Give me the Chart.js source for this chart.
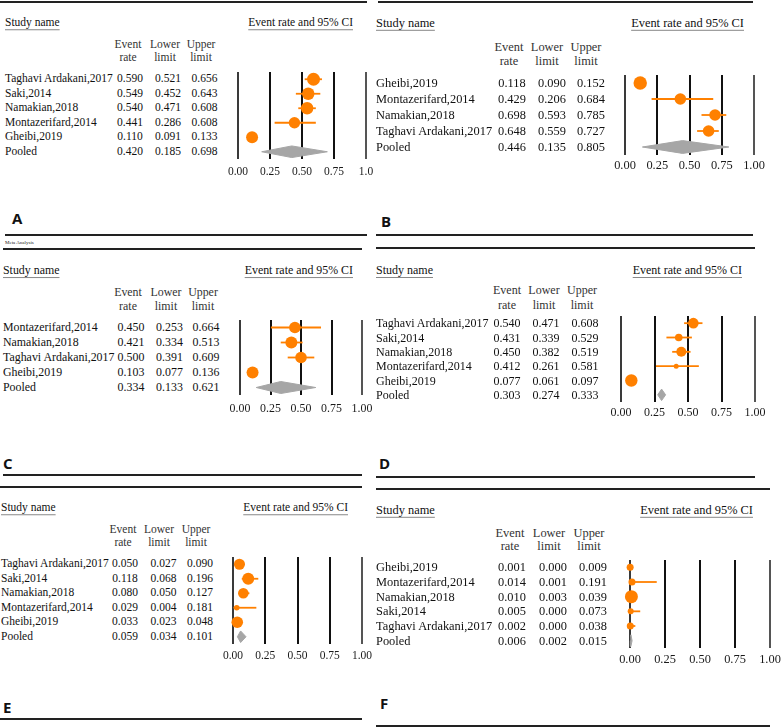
<!DOCTYPE html>
<html>
<head>
<meta charset="utf-8">
<script src="https://cdn.jsdelivr.net/npm/chart.js@4.4.1/dist/chart.umd.min.js"></script>
<style>
  html, body { margin:0; padding:0; background:#fff; }
  #root { position:relative; width:781px; height:727px; overflow:hidden; background:#fff; }
  .t { position:absolute; white-space:nowrap; line-height:1; font-family:"Liberation Serif", "Times New Roman", serif; color:#111; }
  .u { text-decoration: underline; text-decoration-color:#888; text-underline-offset:3px; text-decoration-thickness:1px; }
  .lab { position:absolute; font-family:"Open Sans", "DejaVu Sans", sans-serif; font-weight:700; font-size:15px; line-height:1; color:#111; transform:translateY(-50%); }
  .rule { position:absolute; height:2px; background:#222; }
  canvas { position:absolute; }
</style>
</head>
<body>
<div id="root"></div>
<script>
// ---------------- DATA ----------------
const axisTicksA = ['0.00','0.25','0.50','0.75','1.0'];
const axisTicks  = ['0.00','0.25','0.50','0.75','1.00'];

const studiesA = ['Taghavi Ardakani,2017','Saki,2014','Namakian,2018','Montazerifard,2014','Gheibi,2019','Pooled'];
const rateA  = [0.590, 0.549, 0.540, 0.441, 0.110, 0.420];
const lowerA = [0.521, 0.452, 0.471, 0.286, 0.091, 0.185];
const upperA = [0.656, 0.643, 0.608, 0.608, 0.133, 0.698];

const studiesB = ['Gheibi,2019','Montazerifard,2014','Namakian,2018','Taghavi Ardakani,2017','Pooled'];
const rateB  = [0.118, 0.429, 0.698, 0.648, 0.446];
const lowerB = [0.090, 0.206, 0.593, 0.559, 0.135];
const upperB = [0.152, 0.684, 0.785, 0.727, 0.805];

const studiesC = ['Montazerifard,2014','Namakian,2018','Taghavi Ardakani,2017','Gheibi,2019','Pooled'];
const rateC  = [0.450, 0.421, 0.500, 0.103, 0.334];
const lowerC = [0.253, 0.334, 0.391, 0.077, 0.133];
const upperC = [0.664, 0.513, 0.609, 0.136, 0.621];

const studiesD = ['Taghavi Ardakani,2017','Saki,2014','Namakian,2018','Montazerifard,2014','Gheibi,2019','Pooled'];
const rateD  = [0.540, 0.431, 0.450, 0.412, 0.077, 0.303];
const lowerD = [0.471, 0.339, 0.382, 0.261, 0.061, 0.274];
const upperD = [0.608, 0.529, 0.519, 0.581, 0.097, 0.333];

const studiesE = ['Taghavi Ardakani,2017','Saki,2014','Namakian,2018','Montazerifard,2014','Gheibi,2019','Pooled'];
const rateE  = [0.050, 0.118, 0.080, 0.029, 0.033, 0.059];
const lowerE = [0.027, 0.068, 0.050, 0.004, 0.023, 0.034];
const upperE = [0.090, 0.196, 0.127, 0.181, 0.048, 0.101];

const studiesF = ['Gheibi,2019','Montazerifard,2014','Namakian,2018','Saki,2014','Taghavi Ardakani,2017','Pooled'];
const rateF  = [0.001, 0.014, 0.010, 0.005, 0.002, 0.006];
const lowerF = [0.000, 0.001, 0.003, 0.000, 0.000, 0.002];
const upperF = [0.009, 0.191, 0.039, 0.073, 0.038, 0.015];

// ---------------- STYLE / LAYOUT ----------------
const ORANGE = '#ff8000';
const DIAMOND = '#a6a6a6';
const GRID = ['#3a3a3a', '#111111', '#111111', '#111111', '#555555'];
const markerRadiiA = [6.5, 6.2, 6.2, 5.7, 6];
const markerRadiiB = [6.7, 5.8, 5.8, 5.8];
const markerRadiiC = [5.8, 6, 5.8, 6];
const markerRadiiD = [5.3, 3.8, 5, 2.5, 6.2];
const markerRadiiE = [5.5, 6, 5.3, 2.8, 5.8];
const markerRadiiF = [3.5, 3.5, 6.5, 3, 3.5];

const layouts = {
  A: {nameX:5,   hdrY:23,  ciRight:353, colHdrY:[45,58],   colHdrX:[128,165,201], numX:[130,168,204.5], x0:237.7, x1:366, top:72,  bottom:159, tickY:172, font:11.5},
  B: {nameX:376, hdrY:23,  ciRight:744, colHdrY:[47,61],   colHdrX:[509,547,586], numX:[512,552,591],   x0:625,   x1:754, top:75,  bottom:155, tickY:166, font:12.4},
  C: {nameX:3,   hdrY:271, ciRight:353, colHdrY:[293,307], colHdrX:[128,166,203], numX:[131,169.5,206], x0:240,   x1:362, top:320, bottom:395, tickY:409, font:11.9},
  D: {nameX:376, hdrY:270, ciRight:742, colHdrY:[290,305], colHdrX:[507,544,582], numX:[507,546,585],   x0:621,   x1:755, top:316, bottom:402, tickY:413, font:12},
  E: {nameX:1,   hdrY:508, ciRight:348, colHdrY:[530,543], colHdrX:[123,159,196], numX:[125,163.5,200], x0:233,   x1:362, top:557, bottom:644, tickY:656, font:11.5},
  F: {nameX:376, hdrY:510, ciRight:753, colHdrY:[533,546], colHdrX:[510,549,589], numX:[512,553,593],   x0:630,   x1:770, top:560, bottom:648, tickY:660, font:12.4}
};

const rules = [
  [0,367,2],[378,753,2],[5,367,235],[376,753,235],
  [3,362,249],[376,755,248],[3,362,475],[376,755,477],
  [0,362,487],[376,770,489],[0,362,719],[376,770,726]
];
const panelLabels = [['A',12,218],['B',381,221],['C',3,463],['D',379,463],['E',3,707],['F',380,703]];

const root = document.getElementById('root');

function put(x, y, text, size, align, cls, color) {
  const d = document.createElement('div');
  d.className = 't' + (cls ? ' ' + cls : '');
  d.textContent = text;
  d.style.left = x + 'px';
  d.style.top = y + 'px';
  d.style.fontSize = size + 'px';
  if (color) d.style.color = color;
  const tx = align === 'center' ? '-50%' : align === 'right' ? '-100%' : '0';
  d.style.transform = `translate(${tx},-50%)`;
  root.appendChild(d);
}

rules.forEach(([a,b,y]) => {
  const r = document.createElement('div');
  r.className = 'rule';
  r.style.left = a + 'px'; r.style.width = (b - a) + 'px'; r.style.top = (y - 1) + 'px';
  root.appendChild(r);
});
panelLabels.forEach(([t,x,y]) => {
  const d = document.createElement('div');
  d.className = 'lab'; d.textContent = t; d.style.left = x + 'px'; d.style.top = y + 'px';
  root.appendChild(d);
});
put(5, 242, 'Meta Analysis', 5, 'left', null, '#222');

const fmt = v => v.toFixed(3);

function panel(key, studies, rate, lower, upper, ticks, radii) {
  const L = layouts[key];
  const n = studies.length;
  const k = n - 1;
  const step = (L.bottom - L.top) / n;
  // text table
  put(L.nameX, L.hdrY, 'Study name', L.font, 'left', 'u');
  put(L.ciRight, L.hdrY, 'Event rate and 95% CI', L.font, 'right', 'u');
  const hdr = [['Event','rate'],['Lower','limit'],['Upper','limit']];
  hdr.forEach((h, j) => {
    put(L.colHdrX[j], L.colHdrY[0], h[0], L.font, 'center', null, '#333');
    put(L.colHdrX[j], L.colHdrY[1], h[1], L.font, 'center', null, '#333');
  });
  studies.forEach((s, i) => {
    const y = L.top + (i + 0.5) * step;
    put(L.nameX, y, s, L.font, 'left');
    put(L.numX[0], y, fmt(rate[i]), L.font, 'center');
    put(L.numX[1], y, fmt(lower[i]), L.font, 'center');
    put(L.numX[2], y, fmt(upper[i]), L.font, 'center');
  });

  // chart
  const PAD = 18, PADT = 8, AXIS_H = 30;
  const lineH = L.font * 1.2;
  const tickPad = L.tickY - L.bottom - lineH / 2;
  const cv = document.createElement('canvas');
  const W = (L.x1 - L.x0) + 2 * PAD;
  const H = PADT + (L.bottom - L.top) + AXIS_H;
  cv.width = Math.round(W); cv.height = Math.round(H);
  cv.style.width = Math.round(W) + 'px'; cv.style.height = Math.round(H) + 'px';
  cv.style.left = (L.x0 - PAD) + 'px';
  cv.style.top = (L.top - PADT) + 'px';
  root.appendChild(cv);

  const datasets = [];
  for (let i = 0; i < k; i++) {
    datasets.push({
      type: 'scatter', showLine: true,
      data: [{x: lower[i], y: i}, {x: upper[i], y: i}],
      borderColor: ORANGE, borderWidth: 1.8, pointRadius: 0, clip: false, order: 2
    });
  }
  datasets.push({
    type: 'scatter',
    data: rate.slice(0, k).map((v, i) => ({x: v, y: i})),
    pointRadius: radii, backgroundColor: ORANGE, borderWidth: 0, clip: false, order: 1
  });
  const h = 0.4;
  datasets.push({
    type: 'scatter', showLine: true, fill: 'shape', tension: 0,
    data: [{x: lower[k], y: k}, {x: rate[k], y: k - h}, {x: upper[k], y: k}, {x: rate[k], y: k + h}, {x: lower[k], y: k}],
    borderColor: DIAMOND, backgroundColor: DIAMOND, borderWidth: 1, pointRadius: 0, clip: false, order: 2
  });

  const tickVals = ticks.map(t => parseFloat(t));
  new Chart(cv, {
    type: 'scatter',
    data: { datasets },
    options: {
      responsive: false, animation: false, events: [], devicePixelRatio: 1,
      layout: { padding: { left: PAD, right: PAD, top: PADT, bottom: 0 } },
      plugins: { legend: { display: false }, tooltip: { enabled: false } },
      scales: {
        x: {
          type: 'linear', min: 0, max: 1,
          afterBuildTicks: s => { s.ticks = tickVals.map(v => ({ value: v })); },
          afterFit: s => { s.height = AXIS_H; },
          ticks: {
            callback: (v, i) => ticks[i],
            font: { family: 'Liberation Serif', size: L.font },
            color: '#1a1a1a', padding: tickPad, maxRotation: 0, autoSkip: false
          },
          grid: { color: ctx => GRID[ctx.index] || '#111', lineWidth: 2, drawTicks: false },
          border: { display: false }
        },
        y: { type: 'linear', min: -0.5, max: n - 0.5, reverse: true, display: false }
      }
    }
  });
}

panel('A', studiesA, rateA, lowerA, upperA, axisTicksA, markerRadiiA);
panel('B', studiesB, rateB, lowerB, upperB, axisTicks, markerRadiiB);
panel('C', studiesC, rateC, lowerC, upperC, axisTicks, markerRadiiC);
panel('D', studiesD, rateD, lowerD, upperD, axisTicks, markerRadiiD);
panel('E', studiesE, rateE, lowerE, upperE, axisTicks, markerRadiiE);
panel('F', studiesF, rateF, lowerF, upperF, axisTicks, markerRadiiF);
</script>
</body>
</html>
